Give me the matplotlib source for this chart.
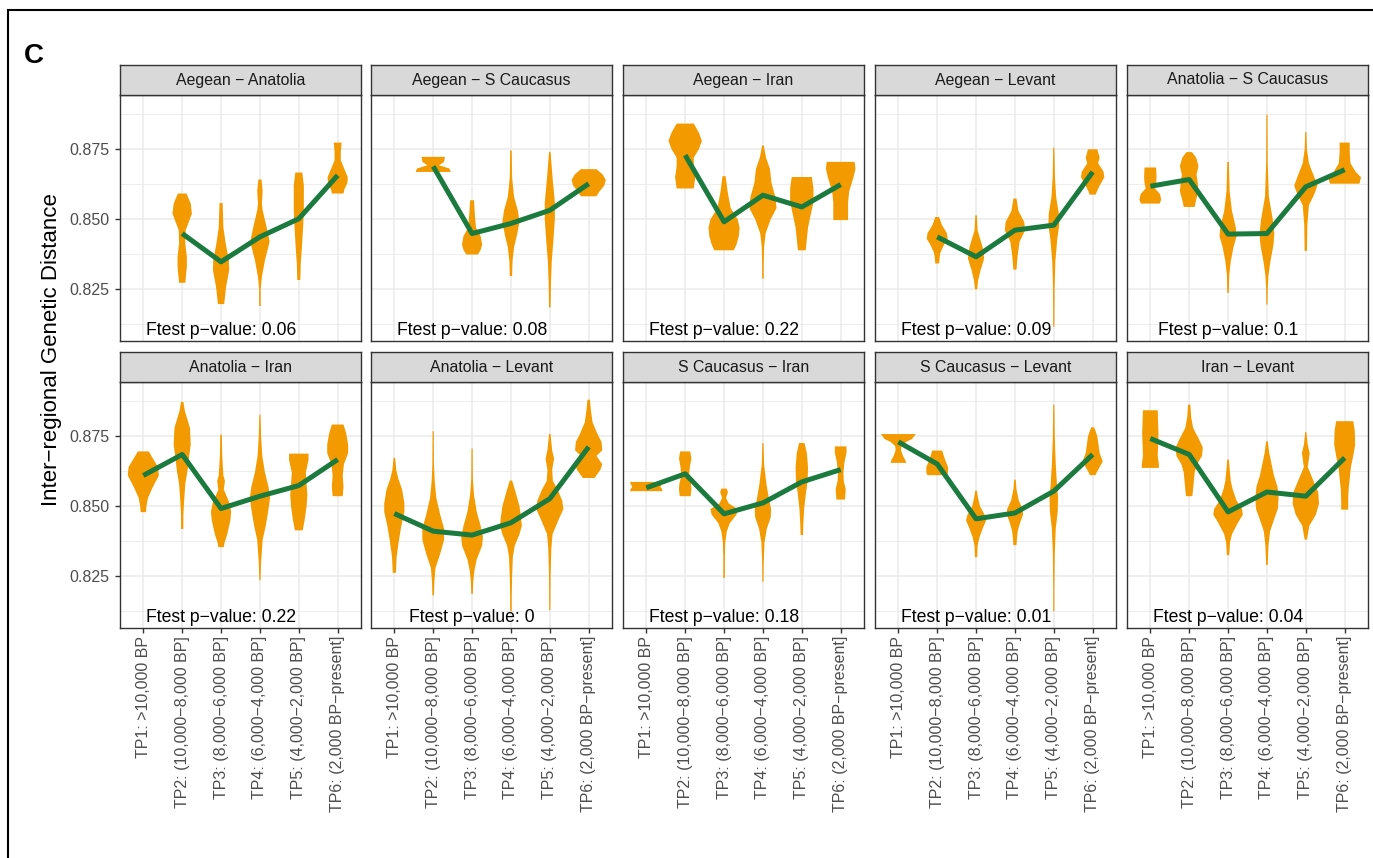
import numpy as np
import matplotlib
matplotlib.use("Agg")
import matplotlib.pyplot as plt
from matplotlib.patches import Rectangle

plt.rcParams['font.family'] = ['Liberation Sans', 'DejaVu Sans']

tp_labels = ["TP1: >10,000 BP", "TP2: (10,000−8,000 BP]", "TP3: (8,000−6,000 BP]",
             "TP4: (6,000−4,000 BP]", "TP5: (4,000−2,000 BP]", "TP6: (2,000 BP−present]"]

pairs = ["Aegean − Anatolia", "Aegean − S Caucasus", "Aegean − Iran", "Aegean − Levant",
         "Anatolia − S Caucasus", "Anatolia − Iran", "Anatolia − Levant",
         "S Caucasus − Iran", "S Caucasus − Levant", "Iran − Levant"]

pvalues = ["0.06", "0.08", "0.22", "0.09", "0.1", "0.22", "0", "0.18", "0.01", "0.04"]

# mean distance per time period (None = no samples)
means = [
    [None, 0.8449, 0.8348, 0.8437, 0.8502, 0.8657],
    [None, 0.8689, 0.8449, 0.8485, 0.8532, 0.8627],
    [None, 0.8729, 0.8491, 0.8586, 0.8544, 0.8624],
    [None, 0.8437, 0.8366, 0.8461, 0.8479, 0.8669],
    [0.8618, 0.8642, 0.8447, 0.8449, 0.8616, 0.8677],
    [0.8610, 0.8685, 0.8492, 0.8536, 0.8574, 0.8667],
    [0.8474, 0.8411, 0.8397, 0.8441, 0.8527, 0.8712],
    [0.8566, 0.8616, 0.8473, 0.8512, 0.8587, 0.8631],
    [0.8730, 0.8651, 0.8455, 0.8476, 0.8554, 0.8685],
    [0.8742, 0.8685, 0.8480, 0.8551, 0.8536, 0.8673],
]

# violin outlines: y levels (top -> bottom) and half widths
y_aeg_ana = [None,
    [0.8592, 0.8556, 0.8520, 0.8461, 0.8413, 0.8366, 0.8330, 0.8273],
    [0.8558, 0.8470, 0.8413, 0.8354, 0.8318, 0.8259, 0.8197],
    [0.8642, 0.8600, 0.8556, 0.8532, 0.8473, 0.8420, 0.8354, 0.8294, 0.8250, 0.8190],
    [0.8667, 0.8620, 0.8530, 0.8470, 0.8400, 0.8340, 0.8283],
    [0.8774, 0.8740, 0.8711, 0.8680, 0.8650, 0.8630, 0.8606, 0.8592]]
w_aeg_ana = [None,
    [0.11, 0.22, 0.25, 0.09, 0.08, 0.12, 0.12, 0.08],
    [0.04, 0.06, 0.12, 0.20, 0.21, 0.13, 0.08],
    [0.04, 0.07, 0.05, 0.07, 0.17, 0.25, 0.13, 0.05, 0.02, 0.02],
    [0.09, 0.13, 0.13, 0.11, 0.08, 0.05, 0.04],
    [0.10, 0.08, 0.08, 0.17, 0.26, 0.25, 0.17, 0.15]]

y_aeg_cau = [None,
    [0.8723, 0.8705, 0.8693, 0.8681, 0.8669],
    [0.8568, 0.8520, 0.8470, 0.8440, 0.8410, 0.8390, 0.8374],
    [0.8746, 0.8650, 0.8580, 0.8530, 0.8490, 0.8440, 0.8400, 0.8350, 0.8297],
    [0.8740, 0.8650, 0.8560, 0.8500, 0.8420, 0.8350, 0.8270, 0.8185],
    [0.8679, 0.8660, 0.8640, 0.8620, 0.8600, 0.8582]]
w_aeg_cau = [None,
    [0.30, 0.28, 0.15, 0.42, 0.45],
    [0.05, 0.07, 0.10, 0.22, 0.26, 0.22, 0.15],
    [0.02, 0.03, 0.08, 0.18, 0.22, 0.15, 0.08, 0.04, 0.03],
    [0.02, 0.07, 0.13, 0.13, 0.09, 0.05, 0.03, 0.02],
    [0.20, 0.36, 0.44, 0.40, 0.28, 0.20]]

y_aeg_ira = [None,
    [0.8842, 0.8810, 0.8780, 0.8750, 0.8720, 0.8690, 0.8650, 0.8610],
    [0.8654, 0.8600, 0.8540, 0.8500, 0.8470, 0.8440, 0.8410, 0.8389],
    [0.8764, 0.8720, 0.8680, 0.8630, 0.8580, 0.8540, 0.8500, 0.8450, 0.8400, 0.8340, 0.8288],
    [0.8651, 0.8610, 0.8560, 0.8510, 0.8470, 0.8430, 0.8389],
    [0.8705, 0.8680, 0.8650, 0.8600, 0.8560, 0.8530, 0.8497]]
w_aeg_ira = [None,
    [0.22, 0.35, 0.43, 0.35, 0.22, 0.22, 0.26, 0.22],
    [0.04, 0.09, 0.17, 0.35, 0.40, 0.38, 0.32, 0.25],
    [0.02, 0.08, 0.18, 0.22, 0.32, 0.35, 0.20, 0.07, 0.03, 0.02, 0.02],
    [0.26, 0.30, 0.30, 0.22, 0.16, 0.13, 0.10],
    [0.36, 0.38, 0.33, 0.22, 0.19, 0.19, 0.19]]

y_aeg_lev = [None,
    [0.8508, 0.8480, 0.8450, 0.8430, 0.8410, 0.8380, 0.8360, 0.8342],
    [0.8514, 0.8460, 0.8400, 0.8360, 0.8320, 0.8280, 0.8250],
    [0.8574, 0.8530, 0.8490, 0.8460, 0.8420, 0.8370, 0.8320],
    [0.8756, 0.8650, 0.8580, 0.8520, 0.8480, 0.8430, 0.8350, 0.8250, 0.8116],
    [0.8750, 0.8720, 0.8700, 0.8670, 0.8650, 0.8620, 0.8600, 0.8588]]
w_aeg_lev = [None,
    [0.05, 0.12, 0.25, 0.27, 0.18, 0.08, 0.06, 0.05],
    [0.02, 0.04, 0.17, 0.21, 0.12, 0.05, 0.03],
    [0.04, 0.09, 0.24, 0.26, 0.12, 0.07, 0.04],
    [0.015, 0.03, 0.06, 0.13, 0.14, 0.09, 0.04, 0.02, 0.015],
    [0.12, 0.18, 0.14, 0.28, 0.30, 0.18, 0.11, 0.08]]

y_ana_cau = [
    [0.8685, 0.8650, 0.8630, 0.8610, 0.8590, 0.8570, 0.8556],
    [0.8740, 0.8720, 0.8690, 0.8660, 0.8630, 0.8600, 0.8570, 0.8544],
    [0.8705, 0.8600, 0.8530, 0.8470, 0.8440, 0.8400, 0.8350, 0.8300, 0.8237],
    [0.8874, 0.8700, 0.8580, 0.8500, 0.8450, 0.8410, 0.8350, 0.8300, 0.8250, 0.8195],
    [0.8812, 0.8750, 0.8700, 0.8650, 0.8620, 0.8590, 0.8550, 0.8480, 0.8387],
    [0.8774, 0.8740, 0.8700, 0.8670, 0.8650, 0.8627]]
w_ana_cau = [
    [0.15, 0.16, 0.15, 0.12, 0.25, 0.28, 0.24],
    [0.07, 0.18, 0.24, 0.19, 0.22, 0.24, 0.18, 0.14],
    [0.02, 0.04, 0.10, 0.20, 0.22, 0.14, 0.07, 0.03, 0.02],
    [0.015, 0.02, 0.05, 0.15, 0.19, 0.17, 0.09, 0.04, 0.02, 0.015],
    [0.015, 0.03, 0.08, 0.22, 0.30, 0.22, 0.08, 0.04, 0.03],
    [0.13, 0.13, 0.15, 0.28, 0.42, 0.38]]

y_ana_ira = [
    [0.8696, 0.8670, 0.8640, 0.8610, 0.8570, 0.8530, 0.8500, 0.8479],
    [0.8873, 0.8840, 0.8780, 0.8720, 0.8680, 0.8630, 0.8580, 0.8520, 0.8470, 0.8419],
    [0.8756, 0.8680, 0.8610, 0.8590, 0.8560, 0.8510, 0.8480, 0.8450, 0.8400, 0.8370, 0.8354],
    [0.8827, 0.8750, 0.8680, 0.8620, 0.8570, 0.8530, 0.8480, 0.8430, 0.8380, 0.8300, 0.8235],
    [0.8688, 0.8665, 0.8620, 0.8580, 0.8540, 0.8500, 0.8450, 0.8414],
    [0.8792, 0.8760, 0.8720, 0.8690, 0.8650, 0.8610, 0.8570, 0.8536]]
w_ana_ira = [
    [0.14, 0.25, 0.38, 0.40, 0.25, 0.12, 0.08, 0.07],
    [0.03, 0.07, 0.20, 0.22, 0.18, 0.14, 0.08, 0.05, 0.03, 0.03],
    [0.02, 0.03, 0.06, 0.10, 0.07, 0.22, 0.26, 0.24, 0.16, 0.09, 0.07],
    [0.015, 0.03, 0.06, 0.13, 0.22, 0.26, 0.21, 0.15, 0.07, 0.03, 0.015],
    [0.25, 0.25, 0.18, 0.20, 0.22, 0.20, 0.15, 0.10],
    [0.15, 0.22, 0.27, 0.27, 0.16, 0.13, 0.15, 0.13]]

y_ana_lev = [
    [0.8673, 0.8630, 0.8600, 0.8560, 0.8510, 0.8480, 0.8430, 0.8380, 0.8320, 0.8262],
    [0.8768, 0.8650, 0.8590, 0.8530, 0.8470, 0.8420, 0.8380, 0.8330, 0.8280, 0.8230, 0.8182],
    [0.8706, 0.8600, 0.8540, 0.8480, 0.8430, 0.8390, 0.8360, 0.8310, 0.8270, 0.8230, 0.8187],
    [0.8592, 0.8550, 0.8500, 0.8460, 0.8430, 0.8400, 0.8360, 0.8320, 0.8250, 0.8180, 0.8125],
    [0.8758, 0.8700, 0.8670, 0.8630, 0.8590, 0.8560, 0.8520, 0.8490, 0.8450, 0.8400, 0.8350, 0.8250, 0.8129],
    [0.8881, 0.8840, 0.8800, 0.8760, 0.8730, 0.8700, 0.8680, 0.8650, 0.8630, 0.8601]]
w_ana_lev = [
    [0.02, 0.05, 0.10, 0.20, 0.26, 0.26, 0.18, 0.12, 0.06, 0.04],
    [0.015, 0.02, 0.04, 0.08, 0.18, 0.28, 0.28, 0.18, 0.06, 0.03, 0.02],
    [0.015, 0.02, 0.05, 0.12, 0.22, 0.28, 0.26, 0.12, 0.06, 0.03, 0.02],
    [0.03, 0.12, 0.22, 0.26, 0.28, 0.22, 0.10, 0.05, 0.03, 0.02, 0.02],
    [0.02, 0.06, 0.11, 0.06, 0.08, 0.20, 0.32, 0.35, 0.22, 0.07, 0.04, 0.02, 0.015],
    [0.03, 0.06, 0.10, 0.22, 0.33, 0.35, 0.20, 0.35, 0.30, 0.15]]

y_cau_ira = [
    [0.8587, 0.8578, 0.8570, 0.8562, 0.8554],
    [0.8696, 0.8670, 0.8640, 0.8610, 0.8580, 0.8560, 0.8536],
    [0.8563, 0.8550, 0.8530, 0.8510, 0.8490, 0.8470, 0.8440, 0.8410, 0.8370, 0.8320, 0.8244],
    [0.8726, 0.8650, 0.8580, 0.8530, 0.8490, 0.8460, 0.8420, 0.8370, 0.8300, 0.8230],
    [0.8726, 0.8690, 0.8640, 0.8590, 0.8540, 0.8490, 0.8440, 0.8397],
    [0.8714, 0.8690, 0.8660, 0.8620, 0.8590, 0.8560, 0.8524]]
w_cau_ira = [
    [0.42, 0.40, 0.36, 0.40, 0.42],
    [0.13, 0.16, 0.12, 0.10, 0.15, 0.16, 0.14],
    [0.07, 0.10, 0.05, 0.12, 0.35, 0.32, 0.15, 0.07, 0.03, 0.02, 0.02],
    [0.015, 0.03, 0.09, 0.15, 0.21, 0.20, 0.10, 0.04, 0.02, 0.015],
    [0.07, 0.13, 0.16, 0.15, 0.10, 0.06, 0.04, 0.03],
    [0.15, 0.15, 0.10, 0.07, 0.08, 0.13, 0.11]]

y_cau_lev = [
    [0.8758, 0.8740, 0.8730, 0.8715, 0.8700, 0.8680, 0.8665, 0.8655],
    [0.8699, 0.8680, 0.8660, 0.8640, 0.8620, 0.8611],
    [0.8556, 0.8530, 0.8500, 0.8470, 0.8450, 0.8420, 0.8390, 0.8360, 0.8318],
    [0.8595, 0.8560, 0.8520, 0.8490, 0.8470, 0.8440, 0.8410, 0.8380, 0.8361],
    [0.8863, 0.8750, 0.8650, 0.8580, 0.8530, 0.8480, 0.8420, 0.8330, 0.8200, 0.8125],
    [0.8782, 0.8750, 0.8720, 0.8690, 0.8660, 0.8640, 0.8620, 0.8611]]
w_cau_lev = [
    [0.45, 0.35, 0.20, 0.08, 0.07, 0.12, 0.18, 0.20],
    [0.13, 0.17, 0.22, 0.28, 0.28, 0.25],
    [0.02, 0.05, 0.10, 0.22, 0.26, 0.17, 0.09, 0.04, 0.03],
    [0.02, 0.04, 0.10, 0.20, 0.21, 0.13, 0.07, 0.05, 0.04],
    [0.015, 0.025, 0.05, 0.08, 0.11, 0.10, 0.05, 0.025, 0.015, 0.015],
    [0.04, 0.12, 0.15, 0.18, 0.26, 0.18, 0.10, 0.07]]

y_ira_lev = [
    [0.8843, 0.8800, 0.8760, 0.8720, 0.8680, 0.8650, 0.8637],
    [0.8863, 0.8820, 0.8780, 0.8740, 0.8710, 0.8680, 0.8650, 0.8620, 0.8590, 0.8560, 0.8536],
    [0.8667, 0.8620, 0.8590, 0.8560, 0.8520, 0.8490, 0.8470, 0.8440, 0.8400, 0.8370, 0.8325],
    [0.8732, 0.8690, 0.8650, 0.8610, 0.8570, 0.8530, 0.8490, 0.8460, 0.8410, 0.8360, 0.8290],
    [0.8765, 0.8720, 0.8690, 0.8640, 0.8600, 0.8550, 0.8510, 0.8470, 0.8430, 0.8381],
    [0.8804, 0.8770, 0.8720, 0.8680, 0.8640, 0.8600, 0.8560, 0.8520, 0.8488]]
w_ira_lev = [
    [0.19, 0.20, 0.21, 0.20, 0.19, 0.22, 0.22],
    [0.03, 0.05, 0.10, 0.25, 0.35, 0.33, 0.20, 0.14, 0.12, 0.10, 0.08],
    [0.02, 0.05, 0.07, 0.12, 0.22, 0.36, 0.38, 0.25, 0.10, 0.05, 0.03],
    [0.02, 0.06, 0.12, 0.18, 0.27, 0.30, 0.28, 0.20, 0.08, 0.04, 0.02],
    [0.015, 0.05, 0.10, 0.05, 0.17, 0.32, 0.34, 0.26, 0.09, 0.03],
    [0.22, 0.26, 0.27, 0.22, 0.16, 0.13, 0.10, 0.09, 0.09]]

violin_y = [y_aeg_ana, y_aeg_cau, y_aeg_ira, y_aeg_lev, y_ana_cau,
            y_ana_ira, y_ana_lev, y_cau_ira, y_cau_lev, y_ira_lev]
violin_w = [w_aeg_ana, w_aeg_cau, w_aeg_ira, w_aeg_lev, w_ana_cau,
            w_ana_ira, w_ana_lev, w_cau_ira, w_cau_lev, w_ira_lev]

ORANGE = "#F29A00"
GREEN = "#1B7A3E"
W, H = 1373, 858

fig = plt.figure(figsize=(W / 100, H / 100), dpi=100)


def px_axes(left, top, width, height):
    return fig.add_axes([left / W, 1 - (top + height) / H, width / W, height / H])


col_left = [120, 371, 623, 875, 1127]
row_top = [95, 382]
pw, ph = 241, 246

for i, name in enumerate(pairs):
    row, col = i // 5, i % 5
    ax = px_axes(col_left[col], row_top[row], pw, ph)
    ax.set_xlim(0.4, 6.6)
    ax.set_ylim(0.8065, 0.8944)
    ax.set_xticks(range(1, 7))
    ax.set_yticks([0.825, 0.850, 0.875])
    ax.set_yticks([0.8125, 0.8375, 0.8625, 0.8875], minor=True)
    ax.set_axisbelow(True)
    ax.grid(which='major', color='#EBEBEB', lw=1.1)
    ax.grid(which='minor', axis='y', color='#EBEBEB', lw=0.6)
    for s in ax.spines.values():
        s.set_color('#333333')
        s.set_linewidth(1.0)
    ax.tick_params(which='minor', left=False)
    ax.tick_params(which='major', length=3.5, width=1, color='#333333',
                   labelsize=11.5, labelcolor='#4D4D4D')
    ax.tick_params(axis='y', pad=4)
    ax.tick_params(axis='x', pad=2)

    if col == 0:
        ax.set_yticklabels(["0.825", "0.850", "0.875"])
    else:
        ax.tick_params(axis='y', left=False, labelleft=False)
    if row == 1:
        ax.set_xticklabels(tp_labels, rotation=90)
    else:
        ax.tick_params(axis='x', bottom=False, labelbottom=False)

    for j in range(6):
        if violin_y[i][j] is None:
            continue
        coords = np.array(violin_y[i][j])
        vals = np.array(violin_w[i][j])
        stats = dict(coords=coords, vals=vals, mean=means[i][j], median=means[i][j],
                     min=coords.min(), max=coords.max())
        parts = ax.violin([stats], positions=[j + 1], widths=[2 * vals.max()],
                          showextrema=False)
        for b in parts['bodies']:
            b.set_facecolor(ORANGE)
            b.set_edgecolor('none')
            b.set_alpha(1)

    xs = [j + 1 for j in range(6) if means[i][j] is not None]
    ys = [m for m in means[i] if m is not None]
    ax.plot(xs, ys, color=GREEN, lw=3.6, solid_joinstyle='round',
            solid_capstyle='butt', zorder=3)

    ax.text(3, 0.8104, "Ftest p−value: " + pvalues[i], ha='center', va='center',
            fontsize=12.7, color='black')

    sax = px_axes(col_left[col], row_top[row] - 30, pw, 30)
    sax.set_facecolor('#D9D9D9')
    sax.set_xticks([])
    sax.set_yticks([])
    for s in sax.spines.values():
        s.set_color('#333333')
        s.set_linewidth(1.0)
    sax.text(0.5, 0.5, name, ha='center', va='center', fontsize=11.4,
             color='#1A1A1A', transform=sax.transAxes)

fig.text(52 / W, 1 - 350 / H, "Inter−regional Genetic Distance", rotation=90,
         ha='center', va='center', fontsize=16)
fig.text(24 / W, 1 - 56 / H, "C", ha='left', va='center', fontsize=20,
         fontweight='bold')

fig.patches.append(Rectangle((8 / W, -0.05), 1.2, 1 - 10 / H + 0.05,
                             transform=fig.transFigure, fill=False,
                             edgecolor='black', lw=1.5))

fig.savefig("out.png", dpi=100)
